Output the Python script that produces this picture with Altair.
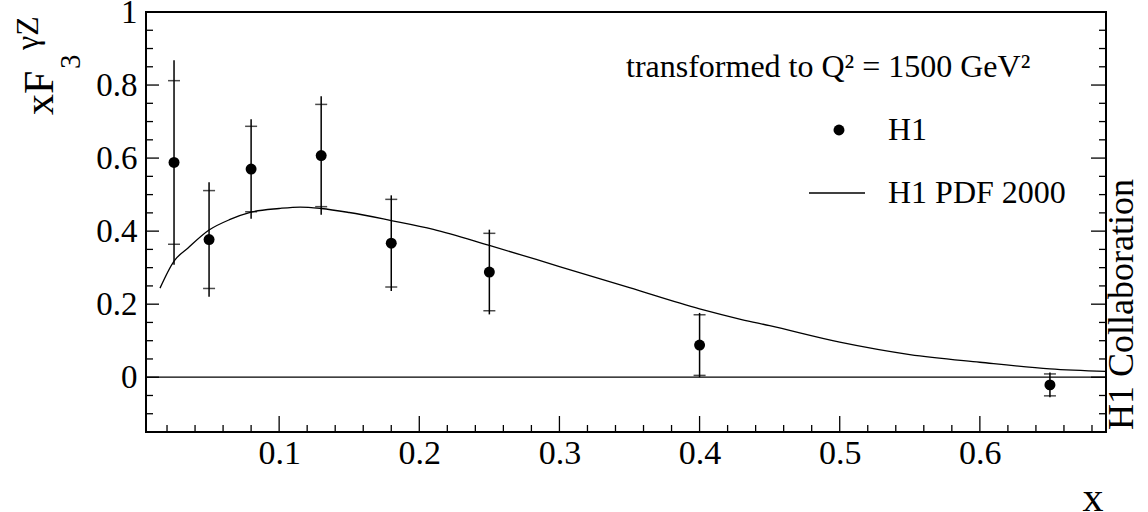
import altair as alt
import pandas as pd

# H1 data points: x, xF3 value, statistical and total errors
x_pts = [0.025, 0.05, 0.08, 0.13, 0.18, 0.25, 0.40, 0.65]
y_pts = [0.588, 0.377, 0.570, 0.607, 0.367, 0.288, 0.088, -0.021]
stat_err = [0.224, 0.134, 0.117, 0.140, 0.120, 0.106, 0.083, 0.030]
tot_err = [0.280, 0.157, 0.136, 0.162, 0.131, 0.116, 0.088, 0.034]

# H1 PDF 2000 prediction
curve_x = [0.015, 0.025, 0.035, 0.05, 0.065, 0.08, 0.10, 0.115, 0.13, 0.15, 0.18,
           0.21, 0.25, 0.30, 0.35, 0.40, 0.43, 0.45, 0.50, 0.55, 0.60, 0.65, 0.69]
curve_y = [0.244, 0.318, 0.354, 0.403, 0.432, 0.452, 0.462, 0.466, 0.462, 0.451, 0.429,
           0.405, 0.361, 0.303, 0.245, 0.187, 0.158, 0.141, 0.096, 0.062, 0.041, 0.023, 0.016]

# axis ticks
x_major = [0.1, 0.2, 0.3, 0.4, 0.5, 0.6]
x_minor = [0.02, 0.04, 0.06, 0.08, 0.12, 0.14, 0.16, 0.18, 0.22, 0.24, 0.26, 0.28,
           0.32, 0.34, 0.36, 0.38, 0.42, 0.44, 0.46, 0.48, 0.52, 0.54, 0.56, 0.58,
           0.62, 0.64, 0.66, 0.68]
y_major = [0.0, 0.2, 0.4, 0.6, 0.8, 1.0]
y_minor = [-0.1, -0.05, 0.05, 0.1, 0.15, 0.25, 0.3, 0.35, 0.45, 0.5, 0.55, 0.65,
           0.7, 0.75, 0.85, 0.9, 0.95]

x_domain = [0.005, 0.69]
y_domain = [-0.15, 1.0]

W, H = 960, 420
FONT = "'Liberation Serif', 'Times New Roman', Times, 'DejaVu Serif', serif"

pts = pd.DataFrame({"x": x_pts, "y": y_pts})
pts["stat_lo"] = [a - b for a, b in zip(y_pts, stat_err)]
pts["stat_hi"] = [a + b for a, b in zip(y_pts, stat_err)]
pts["tot_lo"] = [a - b for a, b in zip(y_pts, tot_err)]
pts["tot_hi"] = [a + b for a, b in zip(y_pts, tot_err)]
curve = pd.DataFrame({"x": curve_x, "y": curve_y})

xs = alt.Scale(domain=x_domain, nice=False, zero=False)
ys = alt.Scale(domain=y_domain, nice=False, zero=False)

xax = alt.Axis(values=x_major, format="~g", ticks=False, domain=False, grid=False,
               labelFont=FONT, labelFontSize=34, labelColor="black", labelPadding=4,
               title=None)
yax = alt.Axis(values=y_major, format="~g", ticks=False, domain=False, grid=False,
               labelFont=FONT, labelFontSize=33, labelColor="black", labelPadding=9,
               title=None)

base = alt.Chart(pts)

# axes labels carried by an invisible layer
axes = alt.Chart(curve).mark_point(opacity=0).encode(
    x=alt.X("x:Q", scale=xs, axis=xax),
    y=alt.Y("y:Q", scale=ys, axis=yax),
)

zero_line = alt.Chart(pd.DataFrame({"y": [0.0]})).mark_rule(
    color="black", strokeWidth=1.3
).encode(y=alt.Y("y:Q", scale=ys), x=alt.value(0), x2=alt.value(W))

line = alt.Chart(curve).mark_line(color="black", strokeWidth=1.3, interpolate="monotone").encode(
    x=alt.X("x:Q", scale=xs), y=alt.Y("y:Q", scale=ys)
)

err = base.mark_rule(color="black", strokeWidth=1.5).encode(
    x=alt.X("x:Q", scale=xs), y=alt.Y("tot_lo:Q", scale=ys), y2="tot_hi:Q"
)
cap_hi = base.mark_tick(color="black", thickness=1.5, size=12, orient="horizontal").encode(
    x=alt.X("x:Q", scale=xs), y=alt.Y("stat_hi:Q", scale=ys)
)
cap_lo = base.mark_tick(color="black", thickness=1.5, size=12, orient="horizontal").encode(
    x=alt.X("x:Q", scale=xs), y=alt.Y("stat_lo:Q", scale=ys)
)
dots = base.mark_circle(color="black", opacity=1, size=120).encode(
    x=alt.X("x:Q", scale=xs), y=alt.Y("y:Q", scale=ys)
)

# inward-pointing frame ticks
def xticks(vals, length):
    return alt.Chart(pd.DataFrame({"x": vals})).mark_rule(color="black", strokeWidth=1.3).encode(
        x=alt.X("x:Q", scale=xs), y=alt.value(H), y2=alt.value(H - length)
    )

def yticks(vals, x0, x1):
    return alt.Chart(pd.DataFrame({"y": vals})).mark_rule(color="black", strokeWidth=1.3).encode(
        y=alt.Y("y:Q", scale=ys), x=alt.value(x0), x2=alt.value(x1)
    )

ticks = [
    xticks(x_major, 16), xticks(x_minor, 7),
    yticks(y_major, 0, 13), yticks(y_minor, 0, 7),
    yticks(y_major, W, W - 15), yticks(y_minor, W, W - 7),
]

def label(text, x, y, size, angle=0, align="left", baseline="alphabetic"):
    kw = dict(font=FONT, fontSize=size, color="black", align=align, baseline=baseline)
    if angle:
        kw["angle"] = angle
    return alt.Chart(pd.DataFrame({"t": [text]})).mark_text(**kw).encode(
        text="t:N", x=alt.value(x), y=alt.value(y)
    )

header = "transformed to Q² = 1500 GeV²"
legend_pts = "H1"
legend_line = "H1 PDF 2000"
side_text = "H1 Collaboration"

# positions below are relative to the plot area's top-left corner
annotations = [
    label(header, 480, 65, 32),
    label(legend_pts, 742, 118, 32, baseline="middle"),
    label(legend_line, 742, 181, 32, baseline="middle"),
    label(side_text, 987, 418, 36, angle=270),
    label("x", 947, 499, 42, align="center"),
    # y title xF_3^{γZ}
    label("xF", -93, 103, 42, angle=270),
    label("3", -66, 57, 29, angle=270),
    label("γZ", -108, 38, 32, angle=270),
]

legend_dot = alt.Chart(pd.DataFrame({"a": [0]})).mark_circle(color="black", opacity=1, size=120).encode(
    x=alt.value(693), y=alt.value(118)
)
legend_seg = alt.Chart(pd.DataFrame({"a": [0]})).mark_rule(color="black", strokeWidth=1.3).encode(
    x=alt.value(663), x2=alt.value(719), y=alt.value(181)
)

chart = alt.layer(
    axes, zero_line, line, err, cap_hi, cap_lo, dots, *ticks,
    legend_dot, legend_seg, *annotations
).properties(
    width=W, height=H,
    padding={"left": 146, "top": 12, "right": 42, "bottom": 80},
    autosize=alt.AutoSizeParams(type="none"),
    background="white",
).configure_view(stroke="black", strokeWidth=2)

chart.save("out.html", embed_options={"renderer": "svg", "actions": False})
